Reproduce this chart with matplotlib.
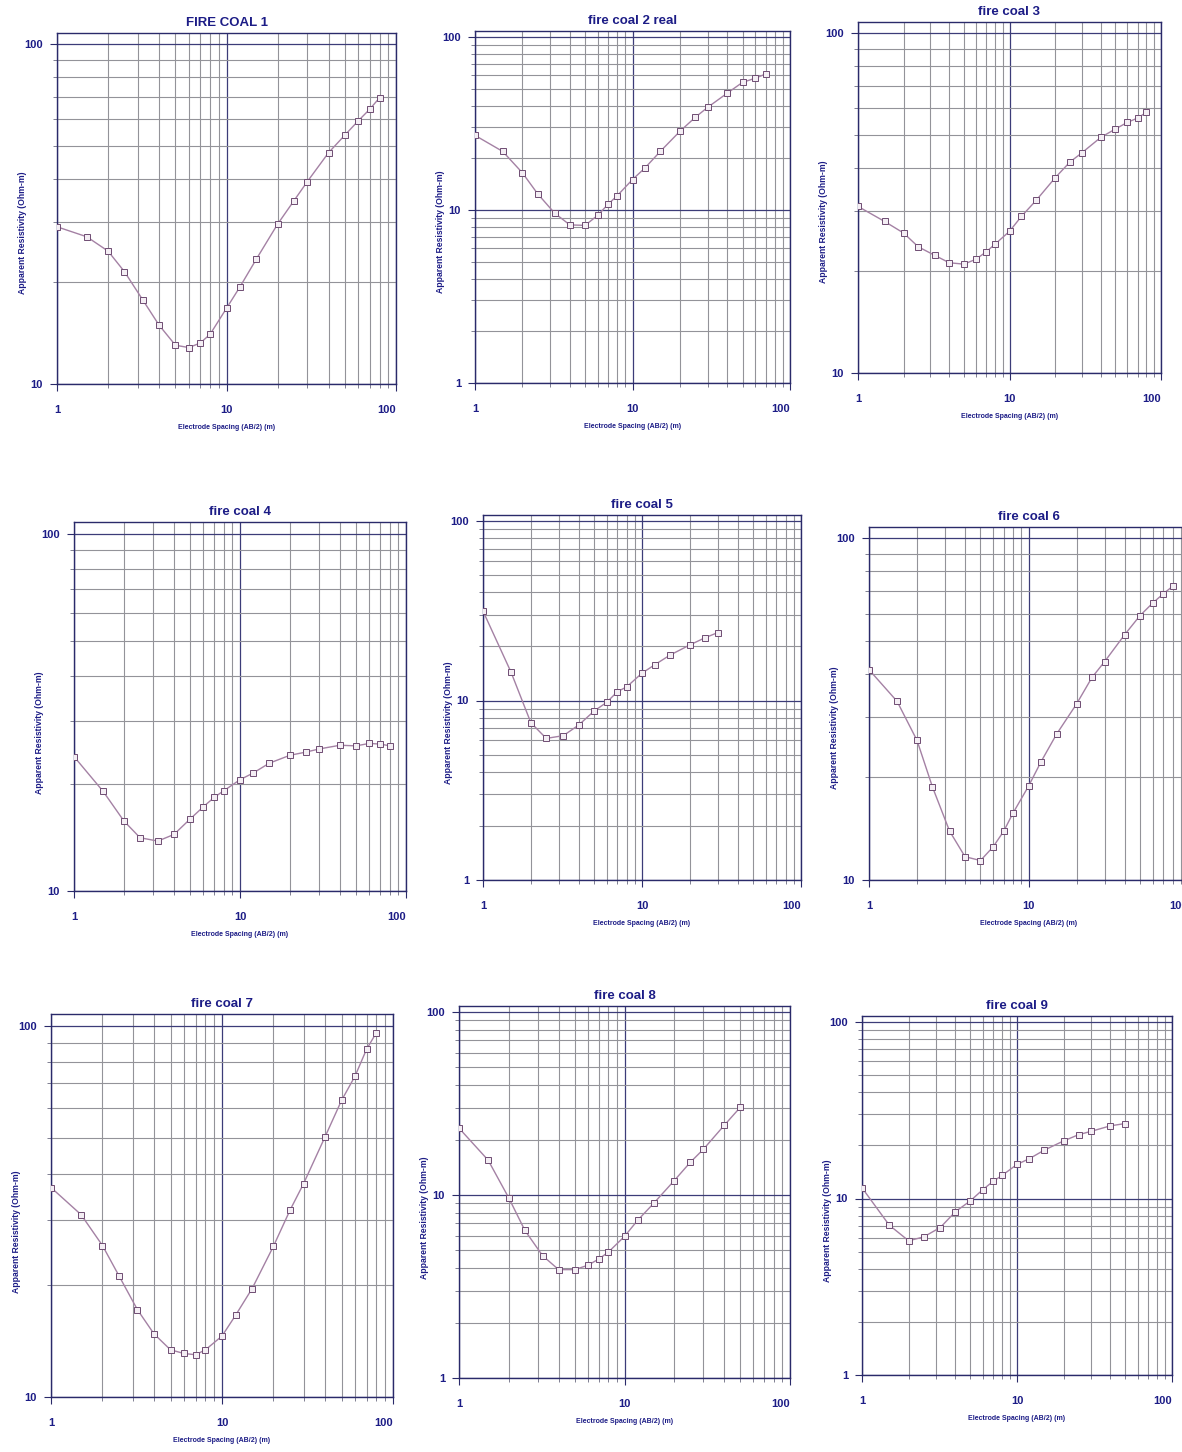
import numpy as np
import matplotlib
matplotlib.use("Agg")
import matplotlib.pyplot as plt
from matplotlib.ticker import LogLocator, NullFormatter, FixedLocator, FixedFormatter

# electrode spacing AB/2 (m), shared by all soundings
ab2 = [1, 1.5, 2, 2.5, 3.2, 4, 5, 6, 7, 8, 10, 12, 15, 20, 25, 30, 40, 50, 60, 70, 80]

titles = ["FIRE COAL 1", "fire coal 2 real", "fire coal 3",
          "fire coal 4", "fire coal 5", "fire coal 6",
          "fire coal 7", "fire coal 8", "fire coal 9"]

# apparent resistivity (Ohm-m)
rho1 = [29.0, 27.1, 24.6, 21.4, 17.7, 14.9, 13.0, 12.8, 13.2, 14.0, 16.7,
        19.3, 23.3, 29.5, 34.6, 39.4, 47.9, 54.0, 59.5, 64.3, 69.5]
rho2 = [27.0, 21.8, 16.4, 12.4, 9.6, 8.2, 8.15, 9.3, 10.8, 12.1, 15.0,
        17.5, 21.8, 28.5, 34.3, 39.2, 47.4, 54.7, 57.7, 61.1]
rho3 = [30.9, 27.9, 25.8, 23.5, 22.2, 21.1, 20.9, 21.6, 22.7, 23.9, 26.1,
        28.9, 32.2, 37.5, 41.7, 44.4, 49.3, 52.2, 54.6, 56.2, 58.4]
rho4 = [23.8, 19.0, 15.7, 14.1, 13.8, 14.4, 15.9, 17.2, 18.3, 19.1, 20.5,
        21.4, 22.8, 24.0, 24.5, 25.0, 25.6, 25.5, 25.9, 25.8, 25.5]
rho5 = [31.5, 14.4, 7.52, 6.15, 6.37, 7.3, 8.74, 9.77, 11.2, 11.9, 14.2,
        15.8, 17.9, 20.4, 22.4, 23.9]
rho6 = [41.2, 33.3, 25.6, 18.7, 13.9, 11.7, 11.4, 12.5, 13.9, 15.7, 18.8,
        22.2, 26.7, 32.7, 39.1, 43.5, 52.1, 59.3, 64.5, 68.7, 72.2]
rho7 = [36.7, 31.0, 25.6, 21.2, 17.2, 14.8, 13.4, 13.1, 13.0, 13.4, 14.6,
        16.6, 19.6, 25.5, 31.9, 37.6, 50.2, 63.0, 73.3, 86.5, 96.0]
rho8 = [23.2, 15.5, 9.63, 6.41, 4.66, 3.91, 3.91, 4.13, 4.47, 4.88, 5.94,
        7.27, 9.0, 12.0, 15.1, 17.8, 24.0, 30.1]
rho9 = [11.5, 7.06, 5.76, 6.06, 6.85, 8.41, 9.7, 11.2, 12.5, 13.5, 15.6,
        16.8, 18.8, 21.2, 23.0, 24.0, 25.8, 26.6]
series = [rho1, rho2, rho3, rho4, rho5, rho6, rho7, rho8, rho9]
ybottom = [10, 1, 10, 10, 1, 10, 10, 1, 1]

# panel frames in pixels: x at AB/2=1, x at 100, y at rho=100, y at bottom limit
frames = [(57, 396, 44, 384), (475, 790, 37, 383), (858, 1161, 33, 373),
          (74, 406, 534, 891), (483, 801, 521, 880), (869, 1188, 538, 880),
          (51, 393, 1026, 1397), (459, 790, 1012, 1378), (862, 1172, 1022, 1375)]

W, H = 1182, 1452
NAVY = "#1c1c86"
FONT = ["Liberation Sans Narrow", "Liberation Sans", "DejaVu Sans"]
YTOP = 108

fig = plt.figure(figsize=(W / 100, H / 100), dpi=100)

for k in range(9):
    x0, x1, y100, ybot = frames[k]
    lo = ybottom[k]
    dec = (ybot - y100) / np.log10(100 / lo)
    top = y100 - dec * np.log10(YTOP / 100)
    wpx, hpx = x1 - x0, ybot - top
    ax = fig.add_axes([x0 / W, 1 - ybot / H, wpx / W, hpx / H])
    ax.set_xscale("log")
    ax.set_yscale("log")
    ax.set_xlim(1, 100)
    ax.set_ylim(lo, YTOP)

    rho = series[k]
    ax.plot(ab2[:len(rho)], rho, color="#a481a4", lw=1.0, marker="s", ms=3.8,
            mfc="#f4eef4", mec="#6e4c72", mew=0.7, zorder=3)

    ax.xaxis.set_minor_locator(LogLocator(base=10, subs=range(2, 10)))
    ax.yaxis.set_minor_locator(LogLocator(base=10, subs=range(2, 10)))
    ax.xaxis.set_minor_formatter(NullFormatter())
    ax.yaxis.set_minor_formatter(NullFormatter())
    ax.xaxis.set_major_locator(FixedLocator([1, 10, 100]))
    ax.xaxis.set_major_formatter(FixedFormatter(["1", "10", "100"]))
    yt = [1, 10, 100] if lo == 1 else [10, 100]
    ax.yaxis.set_major_locator(FixedLocator(yt))
    ax.yaxis.set_major_formatter(FixedFormatter([str(v) for v in yt]))

    ax.grid(which="minor", color="#939399", lw=0.8)
    ax.grid(which="major", color="#3c3c78", lw=0.9)
    ax.set_axisbelow(True)

    for s in ax.spines.values():
        s.set_color("#2a2a6a")
        s.set_linewidth(1.0)

    ax.tick_params(which="major", direction="out", length=5, color="#2a2a6a",
                   labelcolor=NAVY, labelsize=8)
    ax.tick_params(which="minor", direction="out", length=3, color="#6a6a80")
    ax.tick_params(axis="x", which="major", pad=10)
    ax.tick_params(axis="y", which="major", pad=5)
    for lab in ax.get_xticklabels() + ax.get_yticklabels():
        lab.set_fontweight("bold")
        lab.set_family(FONT)
    ax.get_xticklabels()[-1].set_ha("right")

    ax.set_title(titles[k], color=NAVY, fontsize=9.5, fontweight="bold",
                 family=FONT, pad=5)
    ax.set_xlabel("Electrode Spacing (AB/2) (m)", color=NAVY, fontsize=5,
                  fontweight="bold", family=FONT)
    ax.set_ylabel("Apparent Resistivity (Ohm-m)", color=NAVY, fontsize=6.2,
                  fontweight="bold", family=FONT)
    ax.xaxis.set_label_coords(0.5, -40 / hpx)
    ax.yaxis.set_label_coords(-30 / wpx, 0.43)

fig.savefig("out.png", dpi=100, facecolor="white")
